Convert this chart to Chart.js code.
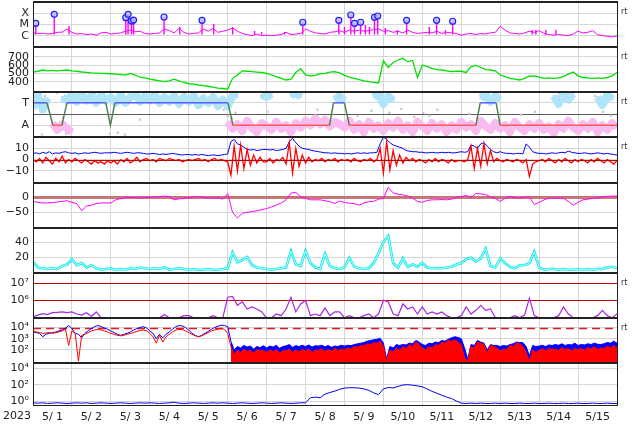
<!DOCTYPE html>
<html>
<head>
<meta charset="utf-8">
<script src="https://cdn.jsdelivr.net/npm/chart.js@4.4.1/dist/chart.umd.min.js"></script>
<style>
  html, body { margin: 0; padding: 0; background: #fff; }
  #wrap { position: relative; width: 634px; height: 424px; overflow: hidden; }
  #wrap canvas { position: absolute; left: 0; }
</style>
</head>
<body>
<div id="wrap"></div>
<script>
// ----------------- data -----------------
const yearLabel = "2023";
const dayLabels = ["5/ 1", "5/ 2", "5/ 3", "5/ 4", "5/ 5", "5/ 6", "5/ 7", "5/ 8",
  "5/ 9", "5/10", "5/11", "5/12", "5/13", "5/14", "5/15"];

// x-ray flux, log10 (3 h samples)
const xrayLog = [
  -5.75, -5.8, -5.78, -5.85, -5.8, -5.7, -5.68, -5.4,
  -5.7, -5.85, -5.8, -5.9, -5.85, -5.95, -5.75, -5.7,
  -5.85, -5.8, -5.75, -5.6, -5.5, -5.65, -5.6, -5.8,
  -5.85, -5.8, -5.75, -5.4, -5.55, -5.75, -5.35, -5.7,
  -5.85, -5.8, -5.75, -5.4, -5.6, -5.35, -5.7, -5.6,
  -5.5, -5.3, -5.6, -5.8, -5.9, -6.0, -5.85, -6.0,
  -5.95, -6.0, -5.95, -5.9, -5.7, -5.9, -5.85, -5.8,
  -5.4, -5.6, -5.75, -5.8, -5.85, -5.7, -5.65, -5.55,
  -5.7, -5.5, -5.6, -5.5, -5.6, -5.55, -5.45, -5.4,
  -5.6, -5.55, -5.7, -5.6, -5.75, -5.5, -5.7, -5.8,
  -5.75, -5.7, -5.75, -5.6, -5.8, -5.7, -5.75, -5.8,
  -5.95, -5.85, -5.8, -5.9, -5.8, -5.85, -5.75, -5.7,
  -5.15, -5.5, -5.75, -5.8, -5.85, -5.75, -5.6, -5.7,
  -5.55, -5.8, -5.9, -5.95, -5.9, -5.95, -6.0, -5.85,
  -5.6, -5.75, -5.7, -5.55, -5.9, -6.0, -6.05, -6.1, -6.05];
const flareHours = [1.7, 13.1, 57.2, 58.6, 60.7, 62.0, 80.8, 104.2, 166.3, 188.5,
  195.9, 198.2, 202.0, 210.5, 212.5, 230.3, 248.8, 258.7];
const flarePeaks = [-4.89, -4.09, -4.39, -4.09, -4.69, -4.6, -4.33, -4.63, -4.8, -4.63,
  -4.15, -4.89, -4.8, -4.36, -4.24, -4.63, -4.63, -4.71];
const minorHours = [22.2, 90.5, 111.4, 123.1, 136.6, 140.9, 155.1, 192, 204.9, 207.4,
  217.2, 224.6, 244.3, 254.2, 307.7, 310, 316.2, 322.3];
const minorPeaks = [-5.13, -5.22, -4.96, -5.22, -5.58, -5.67, -5.67, -5.22, -5.04, -5.22,
  -5.31, -5.49, -5.22, -5.49, -5.49, -5.49, -5.49, -5.49];

// solar wind speed (3 h samples)
const windSpeed = [
  516, 525, 540, 530, 535, 530, 535, 540,
  530, 525, 516, 512, 505, 502, 500, 498,
  495, 490, 485, 478, 500, 480, 455, 445,
  430, 420, 410, 400, 410, 430, 410, 390,
  375, 370, 360, 352, 345, 335, 322, 318,
  310, 440, 480, 530, 525, 520, 515, 510,
  500, 480, 460, 440, 420, 430, 510, 555,
  480, 470, 475, 495, 500, 515, 520, 505,
  475, 455, 440, 425, 410, 400, 392, 385,
  650, 570, 630, 660, 680, 640, 655, 450,
  600, 580, 560, 545, 540, 530, 520, 525,
  525, 510, 580, 595, 570, 545, 540, 530,
  480, 460, 440, 430, 420, 440, 465, 470,
  455, 440, 445, 440, 445, 460, 490, 515,
  470, 450, 445, 440, 445, 440, 450, 470, 510];

// sector mode: T = 1, A = -1
const modeHours = [0, 8.6, 12.3, 17.8, 20.9, 44.9, 47.7, 50.5, 120.2, 123.3,
  182.8, 185.2, 192, 195, 273, 275.7, 285.5, 288, 360];
const modeLevel = [1, 1, -1, -1, 1, 1, -1, 1, 1, -1, -1, 1, 1, -1, -1, 1, 1, -1, -1];
const cloudT = [
  0.5, 1.7, 0.4, 1.4, null, null, 1.5, 1.2,
  1.7, 1.1, 1.8, 1.2, 1.6, 1.0, 1.7, 1.2,
  1.5, 1.0, 1.7, 1.0, 1.5, 1.8, 1.1, 1.6,
  1.2, 1.7, 1.0, 1.5, 1.1, 1.6, 0.9, 1.5,
  1.1, 1.6, 0.8, 1.4, 1.0, 1.5, 0.7, 1.3,
  0.7, 1.6, 1.8, null, null, null, null, 1.7,
  1.5, 1.8, null, null, null, 1.6, 1.9, 1.5,
  null, null, null, null, null, null, 1.3, 1.6,
  1.2, null, null, null, null, null, 1.5, 1.8,
  0.9, 1.6, 1.2, null, null, null, null, null,
  null, null, null, null, null, null, null, null,
  null, null, null, null, 1.4, 1.7, 1.1, 1.6,
  1.3, null, null, null, null, null, null, null,
  null, null, null, 1.6, 0.9, 1.7, 1.3, 1.8,
  null, null, null, null, 1.5, 0.8, 1.7, 1.3, null];
const cloudA = [
  null, null, null, null, -0.8, -1.4, -0.9, -1.3,
  -1.6, null, null, null, null, null, null, null,
  null, null, null, null, null, null, null, null,
  null, null, null, null, null, null, null, null,
  null, null, null, null, null, null, null, null,
  -0.7, -1.3, -0.9, -1.5, -0.6, -1.2, -1.6, -0.8,
  -1.1, -1.4, -0.7, -1.3, -1.0, -1.6, -0.8, -1.2,
  -0.6, -1.0, -0.4, -0.9, -0.5, -1.1, -0.7, -0.9,
  -1.2, -0.6, -1.4, -0.9, -1.6, -0.7, -1.3, -1.0,
  -1.5, -0.8, -1.2, -0.6, -1.4, -1.0, -1.6, -0.7,
  -1.1, -1.5, -0.8, -1.3, -0.9, -1.6, -1.0, -1.4,
  -0.7, -1.2, -0.9, -1.5, -0.6, -1.1, -1.4, -0.8,
  -1.3, -1.0, -1.6, -0.7, -1.2, -1.5, -0.9, -1.3,
  -0.8, -1.4, -1.1, -1.7, -0.9, -1.3, -0.6, -1.2,
  -1.5, -0.9, -1.3, -0.7, -1.6, -1.0, -1.4, -0.8, -1.2];
const grayHours = [2.5, 7.4, 14.8, 18.5, 5.5, 20.3, 25.8, 38.2, 47.4, 52.3, 56.6, 65.8,
  93.5, 105.8, 117.5, 120, 122.5, 124.9, 140.9, 144.6, 164.3, 175.4, 188.9, 200,
  208.6, 219.7, 227, 235, 240.6, 244.3, 249.2, 268.9, 273.8, 300.9, 309.5, 324.3,
  346.5, 351.4, 356.3];
const grayLevels = [1.96, 1.6, 1.88, -0.33, -1.82, -1.74, 1.96, 1.88, -1.74, -1.65, -1.82, -0.5,
  1.88, 1.96, 0.38, -0.15, -0.41, 0.11, 1.6, 0.2, 1.96, 0.38, 1.6, -0.15,
  0.29, 0.11, 0.47, -0.24, 0.11, -0.15, 0.38, 0.03, -0.33, -0.06, 0.2, 1.88,
  1.6, 0.2, -0.15];

// magnetic field Bt / Bz (2 h samples)
const bt = [
  5.5, 6, 5, 6.5, 5.5, 7, 5, 6, 5.5, 6.5, 7, 6,
  5.5, 6, 5, 5.5, 6, 5.5, 6, 6.5, 6, 5.5, 6, 6,
  6, 6.5, 6, 5.5, 6, 6.5, 6, 5.5, 6, 6, 5.5, 5,
  5, 5.5, 5, 4.5, 5, 4.5, 5, 5.5, 5, 4.5, 4, 4.5,
  4.5, 4, 4.5, 4, 4.5, 4, 3.5, 4, 4, 3.5, 4, 4.5,
  5, 16, 18, 14, 13, 11, 9, 8.5, 9, 8, 8.5, 9,
  9, 8.5, 9, 8, 8.5, 9, 10, 16, 19, 15, 12, 10,
  9.5, 9, 8, 7.5, 7, 6.5, 6, 6, 5.5, 6, 5.5, 5.5,
  5, 5.5, 5, 5.5, 6, 5.5, 6, 5.5, 6, 6, 6.5, 14,
  20, 18, 15, 13, 12, 11, 10, 8, 7.5, 7, 7, 6.5,
  6.5, 6, 6, 6.5, 6, 6, 6.5, 6, 6.5, 6, 6, 6.5,
  7, 6.5, 7, 13, 12, 10, 14, 15, 12, 9, 7, 6,
  7, 6, 5.5, 5.5, 5, 5.5, 5.5, 5, 14, 11, 7, 6,
  5.5, 5.5, 5, 5.5, 6, 5.5, 6, 6.5, 6, 7.5, 6.5, 6,
  5.5, 5.5, 6, 5.5, 5, 5.5, 6, 5.5, 5, 5.5, 5, 4.5, 4];
const bz = [
  0, -2, 1, -3, 2, -1, -4, 1, -2, 3, -3, 0,
  -2, 1, -1, -3, 0, -2, -4, -1, -3, -2, -4, -1,
  -3, -1, -4, 0, -2, 1, -3, -1, 2, -2, 0, 1,
  -1, 0, -2, 1, 0, -1, 1, 0, -1, 0, -2, -1,
  0, -1, 0, 1, -1, 0, -2, 0, 1, -1, 0, -1,
  -2, -14, 12, -10, 13, -8, 9, -5, 4, -3, 2, -2,
  -2, 1, -3, 0, -1, 2, -4, 15, -12, 10, -6, 4,
  -3, 2, -2, 0, -1, 1, -2, 0, -1, 1, -2, 0,
  -1, 0, -2, 1, -1, -2, 0, -1, 1, -2, 0, 10,
  -12, 16, -9, 8, -5, 4, -3, 2, -1, 1, -2, 0,
  -1, -3, 0, -2, 1, -2, 0, -1, -3, 0, -2, -1,
  -1, -2, 0, 12, -8, 10, -6, 14, -4, 8, -2, 1,
  -1, -2, 0, -1, -2, 0, -1, -3, 0, -15, -4, -2,
  -1, 0, -2, 1, -1, -3, 0, -2, 1, -1, -3, 0,
  -2, 0, -1, -3, 0, -2, 1, -1, -3, 0, -2, -4, -1];

// Dst index (3 h samples)
const dst = [
  -15, -18, -20, -20, -19, -17, -15, -13,
  -18, -22, -45, -30, -27, -22, -20, -20,
  -20, -10, -6, -3, -2, -3, -5, -3,
  -2, -1, 0, 2, 0, -10, -7, -5,
  -3, -1, 0, -2, -5, -4, -3, -8,
  10, -50, -68, -53, -50, -48, -45, -42,
  -38, -33, -27, -20, -10, 11, 14, 0,
  -5, -10, -10, -10, -13, -16, -22, -14,
  -18, -21, -22, -27, -20, -16, -15, -8,
  -5, 30, 12, 8, 6, 2, -5, -15,
  -18, -12, -10, -10, -9, -10, -8, -2,
  0, 4, -3, 10, 9, 7, 0, -5,
  -15, -5, 0, -3, -5, -2, 0, -25,
  -18, -10, -5, -4, -5, -5, -15, -27,
  -18, -10, -8, -5, -4, 0, 1, 2, 2];

// proton density (3 h samples)
const density = [
  14, 6, 5, 4, 5, 4, 8, 10,
  17, 9, 12, 6, 9, 5, 3, 4,
  5, 3, 4, 3, 5, 4, 6, 5,
  4, 5, 4, 6, 3, 4, 5, 4,
  3, 4, 3, 3, 4, 3, 3, 4,
  5, 26, 13, 16, 20, 9, 6, 5,
  4, 3, 4, 5, 6, 28, 10, 8,
  28, 12, 6, 4, 24, 8, 5, 4,
  6, 19, 7, 5, 4, 5, 12, 25,
  40, 48, 12, 6, 18, 7, 10, 7,
  12, 6, 5, 5, 5, 6, 7, 10,
  12, 17, 19, 14, 18, 31, 8, 6,
  18, 12, 7, 5, 9, 9, 12, 27,
  6, 3, 4, 4, 3, 4, 3, 3,
  4, 3, 4, 3, 4, 4, 6, 7, 5];

// electron fluence (3 h samples)
const electrons = [
  1e5, 1.3e5, 1.6e5, 1.4e5, 1.8e5, 1.9e5, 2e5, 1.8e5,
  2e5, 1.5e5, 1.3e5, 1.8e5, 1.1e5, 2e5, 9e4, 9e4,
  9e4, 9e4, 9e4, 9e4, 9e4, 9e4, 9e4, 9e4,
  9e4, 9e4, 9e4, 1.4e5, 9e4, 9e4, 9e4, 1.2e5,
  1.2e5, 9e4, 9e4, 9e4, 9e4, 1.2e5, 9e4, 9e4,
  1.5e6, 1.7e6, 5e5, 8e5, 3e5, 4e5, 3e5, 2e5,
  9e4, 9e4, 1.5e5, 1.2e5, 3e5, 1.5e6, 2e5, 6e5,
  1e6, 1.2e5, 1.5e5, 1.2e5, 3.5e5, 1.2e5, 2e5, 2e5,
  9e4, 1.2e5, 9e4, 9e4, 1.2e5, 1.5e5, 9e4, 1.5e5,
  1e6, 8e5, 1.5e5, 1.2e5, 6e5, 3e5, 4e5, 1.5e5,
  4e5, 1.5e5, 2e5, 1.5e5, 2e5, 1.2e5, 9e4, 9e4,
  1.2e5, 4e5, 1.5e5, 2.5e5, 5e5, 2.5e5, 3e5, 9e4,
  9e4, 9e4, 9e4, 1.2e5, 9e4, 1.3e5, 1.3e6, 1.2e5,
  9e4, 9e4, 9e4, 9e4, 1.2e5, 4e5, 1.5e5, 9e4,
  9e4, 9e4, 9e4, 9e4, 1.2e5, 2.5e5, 1.2e5, 9e4, 1.5e5];

// particle flux, two channels (2 h samples)
const fluxBlue = [
  4000, 3500, 3000, 1500, 2500, 3000, 3500, 4000, 5000, 6000, 9000, 15000,
  8000, 3000, 2500, 1200, 3000, 5000, 8000, 12000, 15000, 12000, 9000, 7000,
  5000, 3500, 2500, 2000, 2500, 3000, 4000, 6000, 8000, 10000, 12000, 9000,
  5000, 3000, 1000, 2500, 1200, 2500, 4000, 7000, 12000, 15000, 14000, 10000,
  6000, 3000, 2000, 1500, 2000, 3000, 4500, 7000, 10000, 13000, 16000, 15000,
  12000, 600, 100, 200, 150, 250, 180, 220, 120, 200, 160, 240,
  150, 220, 180, 260, 140, 200, 230, 300, 170, 240, 200, 260,
  200, 280, 180, 240, 220, 260, 190, 250, 170, 220, 200, 260,
  220, 260, 240, 300, 350, 400, 450, 600, 700, 800, 900, 1100,
  400, 15, 200, 150, 300, 250, 300, 280, 400, 350, 700, 500,
  300, 250, 400, 350, 500, 450, 700, 600, 900, 1200, 1500, 1300,
  1000, 150, 15, 300, 250, 700, 500, 400, 100, 300, 250, 250,
  200, 250, 220, 300, 350, 500, 450, 450, 200, 30, 250, 200,
  220, 260, 200, 280, 250, 300, 260, 350, 250, 300, 280, 400,
  250, 300, 280, 350, 300, 400, 320, 300, 350, 450, 400, 600, 400];
const fluxRed = [
  5000, 4000, 3500, 3000, 3200, 3500, 3000, 3500, 4000, 5000, 7000, 250,
  5000, 3000, 10, 2000, 2500, 3500, 5000, 6000, 7000, 6000, 5000, 4000,
  3000, 2500, 2000, 1800, 2000, 2500, 3000, 3500, 4500, 5500, 6000, 5000,
  3000, 1500, 400, 2000, 500, 1500, 2500, 4000, 6000, 7000, 6500, 5000,
  3500, 2500, 1800, 1500, 1800, 2500, 3500, 5000, 6000, 7000, 8000, 7000,
  3000, 200, 40, 90, 60, 120, 70, 100, 50, 110, 80, 90,
  60, 100, 70, 110, 50, 90, 80, 120, 60, 100, 70, 110,
  80, 120, 60, 100, 90, 130, 70, 110, 80, 140, 90, 120,
  100, 150, 120, 200, 180, 250, 220, 350, 300, 450, 400, 600,
  200, 10, 100, 60, 150, 90, 200, 130, 300, 200, 500, 300,
  150, 100, 200, 150, 300, 250, 500, 400, 700, 600, 800, 500,
  300, 20, 10, 200, 150, 500, 400, 300, 50, 250, 200, 150,
  80, 120, 100, 250, 200, 400, 350, 200, 60, 10, 100, 60,
  90, 130, 80, 150, 100, 120, 90, 160, 110, 130, 80, 150,
  100, 140, 90, 160, 120, 200, 110, 150, 130, 220, 150, 250, 150];

// high energy protons (3 h samples)
const protons = [
  0.6, 0.55, 0.6, 0.5, 0.55, 0.6, 0.55, 0.5,
  0.55, 0.6, 0.55, 0.6, 0.5, 0.55, 0.6, 0.55,
  0.5, 0.55, 0.6, 0.55, 0.5, 0.55, 0.6, 0.55,
  0.6, 0.55, 0.5, 0.55, 0.6, 0.7, 0.55, 0.5,
  0.55, 0.6, 0.55, 0.5, 0.55, 0.6, 0.55, 0.6,
  0.55, 0.5, 0.55, 0.6, 0.55, 0.5, 0.55, 0.6,
  0.55, 0.5, 0.55, 0.6, 0.55, 0.5, 0.55, 0.6,
  0.6, 2.5, 3, 2.5, 7, 11, 16, 27,
  38, 42, 42, 38, 30, 20, 10, 6,
  30, 45, 40, 60, 90, 100, 85, 70,
  55, 30, 15, 9, 5, 3, 2, 1,
  0.55, 0.5, 0.55, 0.5, 0.55, 0.5, 0.5, 0.55,
  0.5, 0.55, 0.5, 0.5, 0.55, 0.5, 0.5, 0.55,
  0.5, 0.5, 0.55, 0.5, 0.5, 0.55, 0.5, 0.5,
  0.55, 0.5, 0.5, 0.55, 0.5, 0.5, 0.55, 0.5, 0.5];

// -----------------helpers-----------------
Chart.defaults.font.family = "'DejaVu Sans', sans-serif";
Chart.defaults.font.size = 11;
Chart.defaults.color = "#222";

const END_HOUR = dayLabels.length * 24;
const dayTicks = dayLabels.map((d, i) => i * 24).concat([END_HOUR]);
const STEM_BASE = -5.9;
const BAND_FROM_HOUR = 122; // flux drawn as a filled band after the 5/6 drop
const GRID = "#d6d6d6";
const SUP = { 0: "\u2070", 1: "\u00b9", 2: "\u00b2", 3: "\u00b3", 4: "\u2074", 5: "\u2075", 6: "\u2076", 7: "\u2077" };

const series = (step, vals) => vals.map((v, i) => ({ x: i * step, y: v }));
const pairs = (xs, ys) => xs.map((x, i) => ({ x: x, y: ys[i] }));
function stems(hours, peaks) {
  const out = [];
  hours.forEach((h, i) => out.push({ x: h, y: STEM_BASE }, { x: h, y: peaks[i] }, { x: h, y: null }));
  return out;
}
const numLabel = v => String(v).replace("-", "\u2212");
const powLabel = v => "10" + SUP[Math.round(Math.log10(v))];

function yAxis(min, max, ticks, label, type) {
  return {
    type: type || "linear", min: min, max: max,
    afterFit: s => { s.width = 33; s.paddingTop = 0; s.paddingBottom = 0; },
    afterBuildTicks: s => { s.ticks = ticks.map(v => ({ value: v })); },
    ticks: { callback: label, padding: 4, autoSkip: false, color: "#222" },
    grid: { color: GRID, drawTicks: false },
    border: { display: false }
  };
}

function xAxis(withLabels) {
  return {
    type: "linear", min: 0, max: END_HOUR,
    afterBuildTicks: s => { s.ticks = dayTicks.map(v => ({ value: v })); },
    afterFit: s => { s.height = withLabels ? 18 : 0; s.paddingLeft = 0; s.paddingRight = 0; },
    ticks: {
      display: !!withLabels, autoSkip: false, maxRotation: 0, padding: 5, labelOffset: 19.5,
      callback: v => dayLabels[v / 24] || "", color: "#222"
    },
    grid: { color: GRID, drawTicks: false },
    border: { display: false }
  };
}

function lineSet(data, color, width, extra) {
  return Object.assign({ data: data, borderColor: color, backgroundColor: color, borderWidth: width,
    pointRadius: 0, tension: 0, spanGaps: false, fill: false }, extra || {});
}

function bandSet(data, color) {
  return lineSet(data, color, 1, {
    fill: "start",
    segment: { backgroundColor: c => (c.p0.parsed.x >= BAND_FROM_HOUR ? color : "rgba(0,0,0,0)") }
  });
}

function frame(opts) {
  function refLines(chart, above) {
    const { ctx, chartArea: a, scales } = chart;
    (opts.lines || []).filter(l => !!l.above === above).forEach(l => {
      const y = Math.round(scales.y.getPixelForValue(l.value)) + 0.5;
      ctx.save();
      ctx.strokeStyle = l.color; ctx.lineWidth = l.width; ctx.setLineDash(l.dash || []);
      ctx.beginPath(); ctx.moveTo(a.left, y); ctx.lineTo(a.right, y); ctx.stroke();
      ctx.restore();
    });
  }
  return {
    id: "frame",
    beforeDatasetsDraw(chart) { refLines(chart, false); },
    afterDatasetsDraw(chart) { refLines(chart, true); },
    afterDraw(chart) {
      const { ctx, chartArea: a } = chart;
      ctx.save();
      ctx.fillStyle = "#222";
      ctx.fillRect(a.left, a.top, a.right - a.left + 1, 2);
      ctx.fillRect(a.left, a.top, 1, a.bottom - a.top);
      ctx.fillRect(a.right, a.top, 1, a.bottom - a.top);
      if (opts.year) {
        ctx.fillRect(a.left, a.bottom - 1, a.right - a.left + 1, 1);
        ctx.font = "11px 'DejaVu Sans'";
        ctx.textAlign = "center"; ctx.textBaseline = "top";
        ctx.fillText(yearLabel, 17, a.bottom + 5);
      }
      if (opts.rt) {
        ctx.font = "8px 'DejaVu Sans'";
        ctx.fillStyle = "#333"; ctx.textBaseline = "middle";
        ctx.fillText("rt", a.right + 4, a.top + 11);
      }
      ctx.restore();
    }
  };
}

const wrap = document.getElementById("wrap");
function panel(top, height, datasets, y, opts) {
  opts = opts || {};
  const canvas = document.createElement("canvas");
  canvas.width = 634;
  canvas.height = height;
  canvas.style.top = top + "px";
  wrap.appendChild(canvas);
  return new Chart(canvas, {
    type: "line",
    data: { datasets: datasets },
    options: {
      responsive: false, animation: false, events: [],
      layout: { autoPadding: false, padding: { left: 0, right: 17, top: 0, bottom: 0 } },
      plugins: { legend: { display: false }, tooltip: { enabled: false } },
      scales: { x: xAxis(opts.year), y: y }
    },
    plugins: [frame(opts)]
  });
}

// -----------------panels-----------------
// 1: x-ray class
panel(1, 45, [
  lineSet(pairs(flareHours, flarePeaks), "rgb(30,30,255)", 0, {
    showLine: false, pointRadius: 3, pointBorderWidth: 1.2,
    pointBorderColor: "rgb(30,30,255)", pointBackgroundColor: "rgba(190,190,255,0.8)" }),
  lineSet(stems(flareHours, flarePeaks).concat(stems(minorHours, minorPeaks)), "rgb(255,0,255)", 1.4),
  lineSet(series(3, xrayLog), "rgb(255,0,255)", 1)
], yAxis(-6.92, -2.9, [-4, -5, -6], v => ({ "-4": "X", "-5": "M", "-6": "C" })[v]), { rt: true });

// 2: solar wind speed
panel(46, 45, [
  lineSet(series(3, windSpeed), "rgb(0,225,0)", 1.3)
], yAxis(288, 828, [400, 500, 600, 700], numLabel), { rt: true });

// 3: sector mode
const cloudStyle = { pointRadius: 1.6, pointStyle: "rect", pointBorderWidth: 0, borderJoinStyle: "round" };
panel(91, 45, [
  lineSet(pairs(modeHours, modeLevel), "rgb(90,90,255)", 1.5, {
    segment: { borderColor: c => c.p0.parsed.y !== c.p1.parsed.y ? "rgb(80,130,80)"
      : (c.p0.parsed.y > 0 ? "rgb(90,90,255)" : "rgb(255,90,90)") } }),
  lineSet(pairs(grayHours, grayLevels), "rgb(200,200,200)", 0, {
    showLine: false, pointRadius: 1.6, pointStyle: "rect", pointBorderWidth: 0 }),
  lineSet(series(3, cloudT), "rgb(175,228,250)", 8, cloudStyle),
  lineSet(series(3, cloudA), "rgb(250,188,240)", 8, cloudStyle)
], yAxis(-1.95, 2.05, [1, -1], v => (v > 0 ? "T" : "A")),
{ rt: true, lines: [{ value: 0, color: "rgb(90,90,90)", width: 1 }] });

// 4: Bt / Bz
panel(136, 46, [
  lineSet(series(2, bz), "rgb(255,0,0)", 1.3),
  lineSet(series(2, bt), "rgb(0,0,255)", 1)
], yAxis(-20, 21, [10, 0, -10], numLabel),
{ rt: true, lines: [{ value: 0, color: "rgb(190,0,0)", width: 1.2, above: true }] });

// 5: Dst
panel(182, 45, [
  lineSet(series(3, dst), "rgb(255,0,255)", 1)
], yAxis(-97, 47, [0, -50], numLabel),
{ lines: [{ value: 0, color: "rgba(195,95,95,0.85)", width: 3 }] });

// 6: density
panel(227, 45, [
  lineSet(series(3, density), "#ffffff", 0.8),
  lineSet(series(3, density), "rgb(0,235,235)", 2.6)
], yAxis(0, 60, [40, 20], numLabel));

// 7: electrons
panel(272, 45, [
  lineSet(series(3, electrons), "rgb(170,40,220)", 1.2)
], yAxis(1e5, 4.8e7, [1e7, 1e6], powLabel, "logarithmic"),
{ rt: true, lines: [{ value: 1e7, color: "rgb(200,0,0)", width: 1.2 }, { value: 1e6, color: "rgb(200,0,0)", width: 1.2 }] });

// 8: particle flux
panel(317, 45, [
  bandSet(series(2, fluxRed), "rgb(255,0,0)"),
  bandSet(series(2, fluxBlue), "rgb(0,0,255)")
], yAxis(8.3, 8.7e4, [1e4, 1e3, 1e2], powLabel, "logarithmic"),
{ rt: true, lines: [{ value: 1e4, color: "rgb(220,30,30)", width: 1.5, dash: [8, 5] }] });

// 9: protons
panel(362, 62, [
  lineSet(series(3, protons), "rgb(0,0,230)", 1)
], yAxis(0.245, 5.9e4, [1e4, 1e2, 1], powLabel, "logarithmic"), { year: true });
</script>
</body>
</html>
